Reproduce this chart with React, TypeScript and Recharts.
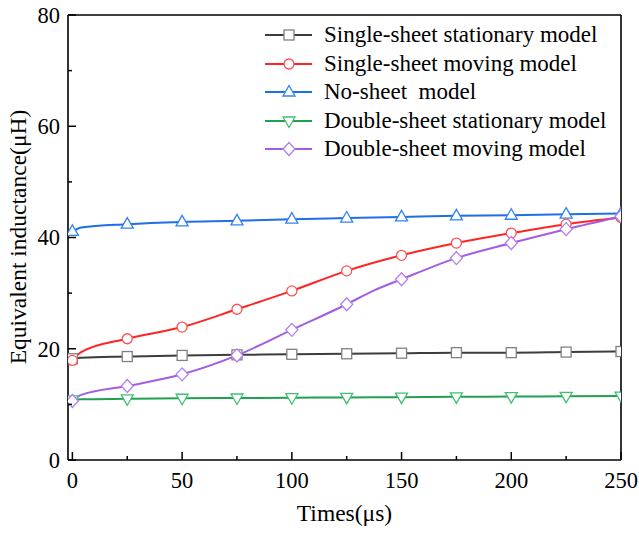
import { LineChart, Line, XAxis, YAxis, ReferenceLine, Label } from "recharts";

// Time axis (µs); 4 and 137 are extra curve points without markers
const times = [0, 4, 25, 50, 75, 100, 125, 137, 150, 175, 200, 225, 250];

// Equivalent inductance (µH) for each model
const singleStationary = [18.2, 18.4, 18.6, 18.8, 18.9, 19.0, 19.1, null, 19.2, 19.3, 19.3, 19.4, 19.5];
const singleMoving = [17.9, 19.4, 21.8, 23.9, 27.1, 30.4, 34.0, null, 36.8, 39.0, 40.8, 42.4, 43.6];
const noSheet = [41.1, 41.8, 42.4, 42.8, 43.0, 43.3, 43.5, null, 43.7, 43.9, 44.0, 44.2, 44.3];
const doubleStationary = [10.8, 10.9, 11.0, 11.1, 11.15, 11.2, 11.25, null, 11.3, 11.35, 11.4, 11.45, 11.5];
const doubleMoving = [10.6, 11.7, 13.3, 15.4, 18.8, 23.4, 28.0, 30.4, 32.5, 36.3, 39.0, 41.5, 43.8];

const xTicks = [0, 25, 50, 75, 100, 125, 150, 175, 200, 225, 250];
const yTicks = [0, 10, 20, 30, 40, 50, 60, 70, 80];

const FONT = "'Liberation Serif', 'Times New Roman', serif";

type Shape = "square" | "circle" | "up" | "down" | "diamond";

const series: { key: string; name: string; values: (number | null)[]; line: string; mark: string; shape: Shape }[] = [
  { key: "ss", name: "Single-sheet stationary model", values: singleStationary, line: "#3d3d3d", mark: "#808080", shape: "square" },
  { key: "sm", name: "Single-sheet moving model", values: singleMoving, line: "#ff2424", mark: "#ff5050", shape: "circle" },
  { key: "ns", name: "No-sheet  model", values: noSheet, line: "#1f6fe6", mark: "#3382f5", shape: "up" },
  { key: "ds", name: "Double-sheet stationary model", values: doubleStationary, line: "#22a052", mark: "#40c073", shape: "down" },
  { key: "dm", name: "Double-sheet moving model", values: doubleMoving, line: "#a35de0", mark: "#b47ef0", shape: "diamond" },
];

const data = times.map((time, i) => {
  const row: Record<string, number | null> = { time };
  series.forEach((s) => (row[s.key] = s.values[i]));
  return row;
});

function marker(shape: Shape, cx: number, cy: number, stroke: string, key?: string) {
  const common = { fill: "#fff", stroke, strokeWidth: 1.3 };
  switch (shape) {
    case "square":
      return <rect key={key} x={cx - 5} y={cy - 5} width={10} height={10} {...common} />;
    case "circle":
      return <circle key={key} cx={cx} cy={cy} r={5} {...common} />;
    case "up":
      return <polygon key={key} points={`${cx},${cy - 6.5} ${cx - 6},${cy + 4} ${cx + 6},${cy + 4}`} {...common} />;
    case "down":
      return <polygon key={key} points={`${cx},${cy + 6.5} ${cx - 6},${cy - 4} ${cx + 6},${cy - 4}`} {...common} />;
    default:
      return <polygon key={key} points={`${cx},${cy - 6.5} ${cx + 6},${cy} ${cx},${cy + 6.5} ${cx - 6},${cy}`} {...common} />;
  }
}

// markers only every 25 µs
const dotFor = (shape: Shape, stroke: string) => (props: any) => {
  const { cx, cy, payload, index } = props;
  const k = `${shape}-${index}`;
  if (cy == null || payload.time % 25 !== 0) return <g key={k} />;
  return marker(shape, cx, cy, stroke, k);
};

const XTick = (props: any) => {
  const { x, y, payload } = props;
  const major = payload.value % 50 === 0;
  return (
    <g>
      <line x1={x} y1={y} x2={x} y2={y - (major ? 8 : 4)} stroke="#000" strokeWidth={1.5} />
      {major && (
        <text x={x} y={y + 28} textAnchor="middle" fontFamily={FONT} fontSize={22.5} fill="#000">
          {payload.value}
        </text>
      )}
    </g>
  );
};

const YTick = (props: any) => {
  const { x, y, payload } = props;
  const major = payload.value % 20 === 0;
  return (
    <g>
      <line x1={x} y1={y} x2={x + (major ? 8 : 4)} y2={y} stroke="#000" strokeWidth={1.5} />
      {major && (
        <text x={x - 8} y={y} dy="0.35em" textAnchor="end" fontFamily={FONT} fontSize={22.5} fill="#000">
          {payload.value}
        </text>
      )}
    </g>
  );
};

const LegendBox = () => (
  <div style={{ position: "absolute", left: 265, top: 21, fontFamily: FONT, fontSize: 23, color: "#000" }}>
    {series.map((s) => (
      <div key={s.key} style={{ display: "flex", alignItems: "center", height: 28.5 }}>
        <svg width={48} height={20} style={{ overflow: "visible" }}>
          <line x1={0} y1={10} x2={47} y2={10} stroke={s.line} strokeWidth={2} />
          {marker(s.shape, 24, 10, s.mark)}
        </svg>
        <span style={{ marginLeft: 11, whiteSpace: "pre", lineHeight: "28px" }}>{s.name}</span>
      </div>
    ))}
  </div>
);

export default function App() {
  return (
    <div style={{ position: "absolute", left: 0, top: 0, width: 639, height: 534, background: "#fff" }}>
      <LineChart width={639} height={534} data={data} margin={{ top: 15, right: 18, left: 0, bottom: 0 }}>
        <ReferenceLine y={80} stroke="#000" strokeWidth={1.6} />
        <ReferenceLine x={250} stroke="#000" strokeWidth={1.6} />
        <XAxis
          dataKey="time"
          type="number"
          domain={[-2, 250]}
          ticks={xTicks}
          allowDataOverflow
          height={74}
          tickSize={0}
          tickMargin={0}
          tickLine={false}
          tick={<XTick />}
          axisLine={{ stroke: "#000", strokeWidth: 1.6 }}
        >
          <Label
            value="Times(μs)"
            position="insideBottom"
            offset={13}
            style={{ fontFamily: FONT, fontSize: 23.5, fill: "#000" }}
          />
        </XAxis>
        <YAxis
          type="number"
          domain={[0, 80]}
          ticks={yTicks}
          width={68}
          tickSize={0}
          tickMargin={0}
          tickLine={false}
          tick={<YTick />}
          axisLine={{ stroke: "#000", strokeWidth: 1.6 }}
        >
          <Label
            content={() => (
              <text
                x={26}
                y={237}
                transform="rotate(-90 26 237)"
                textAnchor="middle"
                fontFamily={FONT}
                fontSize={23.5}
                fill="#000"
              >
                Equivalent inductance(μH)
              </text>
            )}
          />
        </YAxis>
        {series.map((s) => (
          <Line
            key={s.key}
            dataKey={s.key}
            name={s.name}
            type="monotone"
            stroke={s.line}
            strokeWidth={2}
            connectNulls
            dot={dotFor(s.shape, s.mark)}
            activeDot={false}
            isAnimationActive={false}
          />
        ))}
      </LineChart>
      <LegendBox />
    </div>
  );
}
